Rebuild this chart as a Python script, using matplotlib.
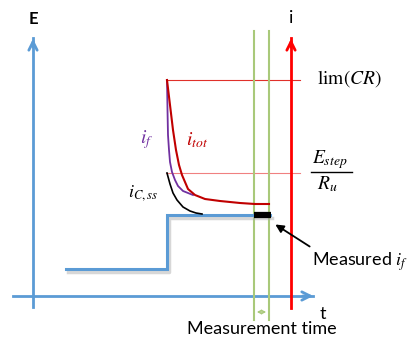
import matplotlib
matplotlib.use("Agg")
import matplotlib.pyplot as plt

plt.rcParams['font.family'] = ['Lato', 'DejaVu Sans']
plt.rcParams['mathtext.fontset'] = 'stix'

# curves, in pixel coordinates (x right, y down)
tot_x = [167, 170, 173, 176, 179, 182, 188, 195, 205, 220, 240, 255, 269]
tot_y = [80, 105, 130, 150, 165, 175, 189, 195, 199, 201, 203, 204, 204]
f_x = [167, 167.5, 168, 169, 170, 172, 175, 178, 183, 193]
f_y = [80, 110, 135, 150, 162, 172, 180, 186, 191, 195]
css_x = [167, 170, 173, 177, 183, 190, 196, 202]
css_y = [173, 184, 193, 200, 207, 211, 213, 214]

# potential step
step_x = [66, 167, 167, 270]
step_y = [269, 269, 215, 215]

# reference levels
lim_cr = 80
e_over_r = 173
meas_x = [254, 269]

blue = '#5b9bd5'
red = '#ff0000'
green = '#a9c97a'

fig = plt.figure(figsize=(4.07, 3.41), dpi=100)
ax = fig.add_axes([0, 0, 1, 1])
ax.set_xlim(0, 407)
ax.set_ylim(341, 0)
ax.axis('off')

# axes
ax.plot([33, 33], [307, 38], color=blue, lw=2)
ax.annotate('', xy=(33, 36), xytext=(33, 50),
            arrowprops=dict(arrowstyle='->', color=blue, lw=2, mutation_scale=15))
ax.plot([13, 313], [296, 296], color=blue, lw=2)
ax.annotate('', xy=(316, 296), xytext=(300, 296),
            arrowprops=dict(arrowstyle='->', color=blue, lw=2, mutation_scale=15))
ax.text(33, 19, 'E', ha='center', va='center', fontsize=12, fontweight='bold')
ax.text(323, 314, 't', ha='center', va='center', fontsize=13)

# horizontal limit lines
ax.plot([166, 300], [lim_cr, lim_cr], color='#e0302a', lw=0.8)
ax.plot([166, 300], [e_over_r, e_over_r], color='#f08080', lw=0.8)

# measurement window
for xm in meas_x:
    ax.plot([xm, xm], [31, 320], color=green, lw=1.5)
ax.annotate('', xy=(meas_x[0], 312), xytext=(meas_x[1], 312),
            arrowprops=dict(arrowstyle='<->', color=green, lw=1, mutation_scale=6))

# i axis
ax.plot([291, 291], [308, 38], color=red, lw=2)
ax.annotate('', xy=(291, 36), xytext=(291, 50),
            arrowprops=dict(arrowstyle='->', color=red, lw=2, mutation_scale=15))
ax.text(291, 18, 'i', ha='center', va='center', fontsize=13)

# step with shadow
ax.plot([x + 2 for x in step_x], [y + 3 for y in step_y], color='#b0b0b0', lw=2.5, alpha=0.5)
ax.plot(step_x, step_y, color=blue, lw=2.2, solid_joinstyle='miter')
ax.plot([254, 271], [215, 215], color='black', lw=4.5, solid_capstyle='butt')

# currents
ax.plot(css_x, css_y, color='black', lw=1.2)
ax.plot(f_x, f_y, color='#7030a0', lw=1.3)
ax.plot(tot_x, tot_y, color='#c00000', lw=1.5)

ax.text(147, 140, r'$i_f$', color='#7030a0', fontsize=14, ha='center', va='center')
ax.text(197, 140, r'$i_{tot}$', color='#c00000', fontsize=14, ha='center', va='center')
ax.text(143, 193, r'$i_{C,ss}$', color='black', fontsize=13, ha='center', va='center')

ax.text(317, 79, r'$\lim(CR)$', fontsize=14, ha='left', va='center')
ax.text(312, 160, r'$E_{step}$', fontsize=14, ha='left', va='center')
ax.plot([311, 352], [172, 172], color='black', lw=1)
ax.text(317, 184, r'$R_u$', fontsize=14, ha='left', va='center')

ax.annotate('', xy=(273, 223), xytext=(312, 248),
            arrowprops=dict(arrowstyle='-|>', color='black', lw=1.3, mutation_scale=12))
ax.text(312, 262, 'Measured $i_f$', fontsize=13, ha='left', va='center')
ax.text(262, 329, 'Measurement time', fontsize=13, ha='center', va='center')

fig.savefig('out.png', dpi=100)
